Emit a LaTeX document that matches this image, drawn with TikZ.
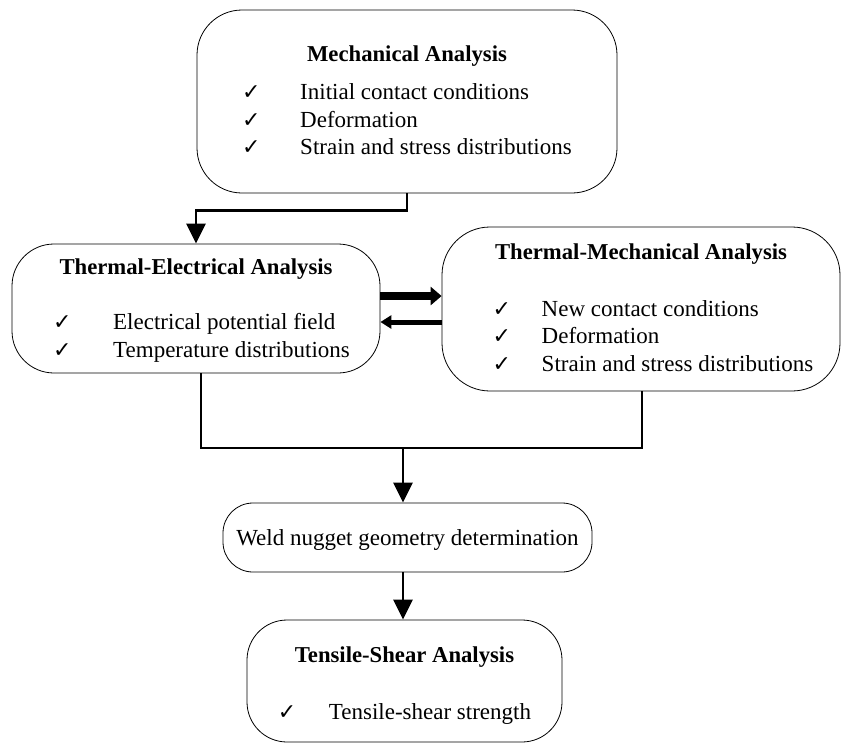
\documentclass[tikz,border=0pt]{standalone}
\usepackage{fontspec}
\setmainfont{Liberation Serif}
\newfontfamily\tickfont{DejaVu Sans}
\usetikzlibrary{arrows.meta,positioning}

\newlength{\tickw}
\newcommand{\tk}{\makebox[\tickw][l]{\tickfont\fontsize{22}{22}\selectfont ✓}}
\newcommand{\ticklist}[2]{\setlength{\tickw}{#1}\begin{tabular}[t]{@{}l@{}l@{}}#2\end{tabular}}
\newcommand{\boxtitle}[2]{\raisebox{0pt}[#1][\depth]{\textbf{\fontsize{22.7}{27.5}\selectfont #2}}}

\begin{document}
\begin{tikzpicture}[
    x=1pt, y=-1pt,
    box/.style={rectangle, rounded corners=#1, draw=black, line width=0.8pt,
        inner sep=0pt, align=center, font=\fontsize{23}{27.5}\selectfont},
    box/.default=45pt,
    flow/.style={-{Triangle[length=20pt,width=19pt]}, line width=2.8pt},
    link/.style={line width=2.8pt},
    fwd/.style={-{Triangle[length=11pt,width=18pt]}, line width=8pt},
    back/.style={-{Triangle[length=11pt,width=13pt]}, line width=5pt}
]
\useasboundingbox (0,0) rectangle (843,745);

\node[box=45pt, minimum width=420pt, minimum height=183pt] (mech) at (407,101.5)
    {\boxtitle{22.2pt}{Mechanical Analysis}\\[10.5pt]
     \ticklist{58pt}{\tk & Initial contact conditions\\ \tk & Deformation\\ \tk & Strain and stress distributions}};
\node[box=42pt, minimum width=368pt, minimum height=129pt] (te) at (196,308.5)
    {\boxtitle{23.5pt}{Thermal-Electrical Analysis}\\[27.5pt]
     \hspace*{11pt}\ticklist{60pt}{\tk & Electrical potential field\\ \tk & Temperature distributions}};
\node[box=48pt, minimum width=398pt, minimum height=164pt] (tm) at (641,309)
    {\boxtitle{20.5pt}{Thermal-Mechanical Analysis}\\[29.5pt]
     \hspace*{24pt}\ticklist{49pt}{\tk & New contact conditions\\ \tk & Deformation\\ \tk & Strain and stress distributions}};
\node[box=30pt, minimum width=369pt, minimum height=69pt] (weld) at (407.5,537.5)
    {\raisebox{0pt}[21pt][5pt]{Weld nugget geometry determination}};
\node[box=40pt, minimum width=315pt, minimum height=122pt] (ts) at (404.5,681)
    {\boxtitle{29.2pt}{Tensile-Shear Analysis}\\[29.5pt]
     \ticklist{51pt}{\tk & Tensile-shear strength}};

% connectors
\coordinate (fwdA) at ([yshift=12.5pt]te.east);
\coordinate (backA) at ([yshift=-13.5pt]te.east);
\coordinate (join) at (403,448);

\draw[flow] (mech.south) -- ++(0,17) -| (te.north);
\draw[fwd] (fwdA) -- (fwdA -| tm.west);
\draw[back] (backA -| tm.west) -- (backA);
\draw[link] ([xshift=5pt]te.south) |- (join) -| ([xshift=1pt]tm.south);
\draw[flow] (join) -- (join |- weld.north);
\draw[flow] (join |- weld.south) -- (join |- ts.north);
\end{tikzpicture}
\end{document}
